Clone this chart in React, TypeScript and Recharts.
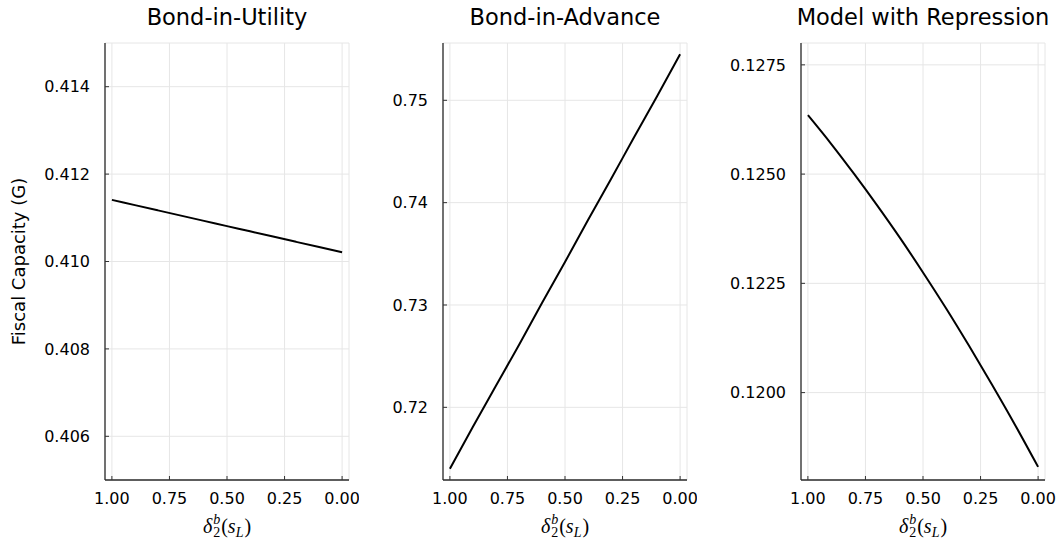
import React from 'react';
import { CartesianGrid, Line, LineChart, XAxis, YAxis } from 'recharts';

// δ_2^b(s_L) grid, from 1 down to 0
const deltaGrid = [1.0, 0.9, 0.8, 0.7, 0.6, 0.5, 0.4, 0.3, 0.2, 0.1, 0.0];

// fiscal capacity G along the grid, one array per model
const bondInUtility = [0.41141, 0.41129, 0.41117, 0.41105, 0.41093, 0.41081, 0.41069, 0.41057, 0.41045, 0.41033, 0.41021];
const bondInAdvance = [0.714, 0.7181, 0.7221, 0.7261, 0.7302, 0.7342, 0.7383, 0.7423, 0.7464, 0.7504, 0.7545];
const withRepression = [0.12635, 0.1257, 0.12501, 0.12429, 0.12354, 0.12275, 0.12193, 0.12107, 0.12018, 0.11926, 0.1183];

const xTicks = [1, 0.75, 0.5, 0.25, 0];
const utilityTicks = [0.406, 0.408, 0.41, 0.412, 0.414];
const advanceTicks = [0.72, 0.73, 0.74, 0.75];
const repressionTicks = [0.12, 0.1225, 0.125, 0.1275];

const xRange = [-0.03, 1.03];
const utilityRange = [0.405, 0.415];
const advanceRange = [0.7129, 0.7556];
const repressionRange = [0.118, 0.128];

const W = 1059;
const H = 541;
const PLOT_TOP = 43;
const X_AXIS_H = 61;
const FONT = "'DejaVu Sans', sans-serif";
const TICK_GAP_X = 12.5;
const TICK_GAP_Y = 15;

const XTick = ({ x, y, payload }: any) => (
  <g>
    <line x1={x} x2={x} y1={y - TICK_GAP_X} y2={y - TICK_GAP_X - 4} stroke="#333" strokeWidth={1} />
    <text x={x} y={y} dy="0.71em" textAnchor="middle" fontSize={16} fontFamily={FONT} fill="#000">
      {Number(payload.value).toFixed(2)}
    </text>
  </g>
);

const makeYTick = (digits: number) => ({ x, y, payload }: any) => (
  <g>
    <line x1={x + TICK_GAP_Y} x2={x + TICK_GAP_Y + 4} y1={y} y2={y} stroke="#333" strokeWidth={1} />
    <text x={x} y={y} dy="0.355em" textAnchor="end" fontSize={16} fontFamily={FONT} fill="#000">
      {Number(payload.value).toFixed(digits)}
    </text>
  </g>
);

// math-style axis title: δ with stacked sub/superscript, then (s_L)
const DeltaLabel = ({ cx }: { cx: number }) => (
  <text x={cx} y={533} textAnchor="middle" fontFamily="'Liberation Serif', serif" fontSize={20} fill="#000">
    <tspan fontStyle="italic">δ</tspan>
    <tspan fontStyle="italic" fontSize={14} dx={1} dy={-9}>b</tspan>
    <tspan fontSize={14} dx={-7} dy={13}>2</tspan>
    <tspan dx={1} dy={-4}>(</tspan>
    <tspan fontStyle="italic">s</tspan>
    <tspan fontStyle="italic" fontSize={14} dy={4}>L</tspan>
    <tspan dx={1} dy={-4}>)</tspan>
  </text>
);

const YTitle = ({ text, cy }: { text: string; cy: number }) => (
  <text
    x={18}
    y={cy}
    transform={`rotate(-90, 18, ${cy})`}
    textAnchor="middle"
    dominantBaseline="central"
    fontSize={18}
    fontFamily={FONT}
    fill="#000"
  >
    {text}
  </text>
);

const panels = [
  { title: 'Bond-in-Utility', values: bondInUtility, ticks: utilityTicks, range: utilityRange, digits: 3, left: 0, width: 359, axisWidth: 105, right: 10, yTitle: 'Fiscal Capacity (G)' },
  { title: 'Bond-in-Advance', values: bondInAdvance, ticks: advanceTicks, range: advanceRange, digits: 2, left: 359, width: 338, axisWidth: 84, right: 10, yTitle: '' },
  { title: 'Model with Repression', values: withRepression, ticks: repressionTicks, range: repressionRange, digits: 4, left: 697, width: 362, axisWidth: 104, right: 14, yTitle: '' },
];

const Panel = ({ p }: { p: (typeof panels)[number] }) => {
  const data = deltaGrid.map((d, i) => ({ delta: d, g: p.values[i] }));
  const plotW = p.width - p.axisWidth - p.right;
  const cx = p.axisWidth + plotW / 2;
  const cy = PLOT_TOP + (H - PLOT_TOP - X_AXIS_H) / 2;
  return (
    <div style={{ position: 'absolute', left: p.left, top: 0, width: p.width, height: H }}>
      <LineChart width={p.width} height={H} data={data} margin={{ top: PLOT_TOP, right: p.right, bottom: 0, left: 0 }}>
        <CartesianGrid stroke="#e6e6e6" strokeWidth={1} />
        <XAxis
          dataKey="delta"
          type="number"
          domain={xRange}
          reversed
          ticks={xTicks}
          interval={0}
          allowDataOverflow
          height={X_AXIS_H}
          tickSize={0}
          tickMargin={TICK_GAP_X}
          tickLine={false}
          axisLine={{ stroke: '#2b2b2b', strokeWidth: 1.3 }}
          tick={<XTick />}
          label={<DeltaLabel cx={cx} />}
        />
        <YAxis
          type="number"
          domain={p.range}
          ticks={p.ticks}
          interval={0}
          allowDataOverflow
          width={p.axisWidth}
          tickSize={0}
          tickMargin={TICK_GAP_Y}
          tickLine={false}
          axisLine={{ stroke: '#2b2b2b', strokeWidth: 1.3 }}
          tick={makeYTick(p.digits)}
          label={p.yTitle ? <YTitle text={p.yTitle} cy={cy} /> : undefined}
        />
        <Line
          dataKey="g"
          type="monotone"
          stroke="#000"
          strokeWidth={2}
          dot={false}
          activeDot={false}
          isAnimationActive={false}
        />
      </LineChart>
      <svg width={p.width} height={H} style={{ position: 'absolute', left: 0, top: 0, pointerEvents: 'none' }}>
        <text x={cx} y={25} textAnchor="middle" fontSize={22.5} fontFamily={FONT} fill="#000">
          {p.title}
        </text>
      </svg>
    </div>
  );
};

export default function App() {
  return (
    <div style={{ position: 'absolute', left: 0, top: 0, width: W, height: H, background: '#fff', fontFamily: FONT }}>
      {panels.map((p) => (
        <Panel key={p.title} p={p} />
      ))}
    </div>
  );
}
